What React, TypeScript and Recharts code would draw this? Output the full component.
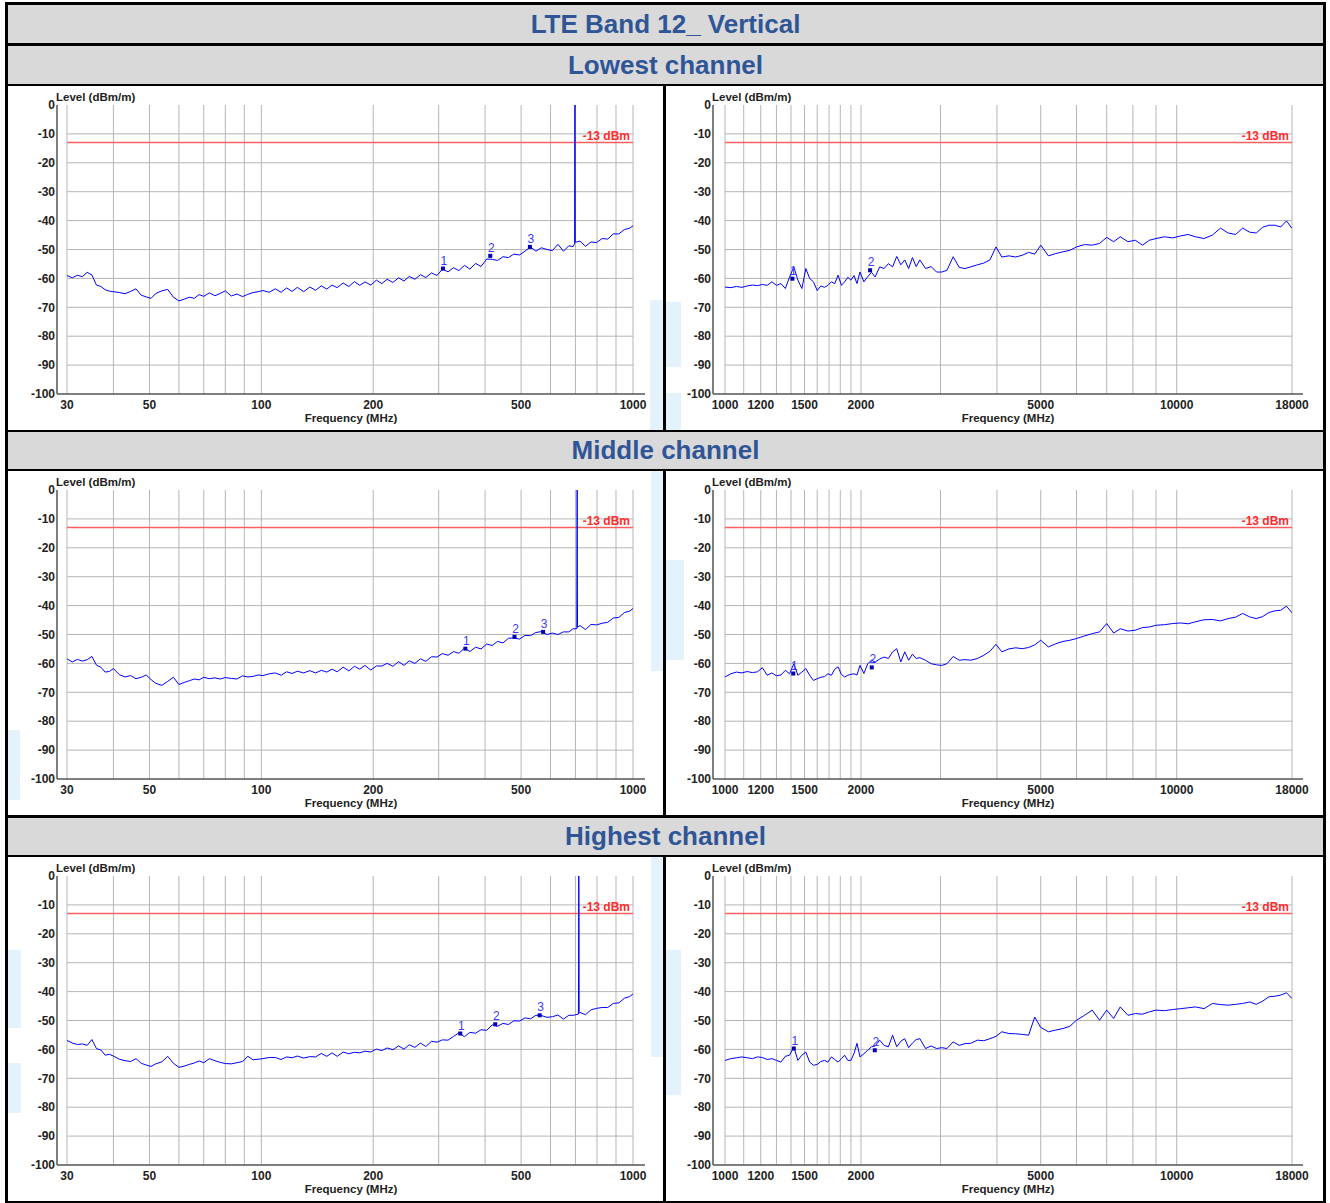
import React from 'react';
import { ComposedChart, Line, Scatter, XAxis, YAxis, ReferenceLine, ReferenceDot } from 'recharts';

// sweep points (MHz)
const LOW_FREQ = [
  30, 31, 32, 33, 34, 35, 36, 37, 38, 39,
  40, 41.5, 43, 44.5, 46, 47.5, 49, 50.5, 52, 54,
  56, 58, 60, 62, 64, 66, 68, 70, 72.5, 75,
  77.5, 80, 83, 86, 89, 92, 95, 98, 101, 105,
  109, 113, 117, 121, 125, 130, 135, 140, 145, 150,
  155, 160, 166, 172, 178, 184, 190, 197, 204, 211,
  218, 226, 234, 242, 250, 259, 268, 277, 287, 297,
  307, 318, 329, 340, 352, 364, 377, 390, 404, 418,
  432, 447, 462, 478, 495, 512, 530, 548, 567, 587,
  607, 628, 650, 672, 690, 720, 745, 771, 798, 826,
  855, 885, 916, 948, 980, 1000,
];

const HIGH_FREQ = [
  1000, 1030, 1060, 1090, 1120, 1150, 1180, 1210, 1240, 1270,
  1300, 1330, 1360, 1390, 1420, 1450, 1480, 1510, 1540, 1570,
  1600, 1630, 1660, 1690, 1720, 1750, 1780, 1810, 1840, 1870,
  1900, 1930, 1960, 1990, 2030, 2070, 2110, 2150, 2200, 2250,
  2300, 2350, 2400, 2450, 2500, 2550, 2600, 2650, 2700, 2780,
  2860, 2940, 3020, 3100, 3200, 3300, 3400, 3500, 3620, 3740,
  3860, 3980, 4100, 4250, 4400, 4550, 4700, 4850, 5000, 5200,
  5400, 5600, 5800, 6000, 6250, 6500, 6750, 7000, 7250, 7500,
  7800, 8100, 8400, 8700, 9000, 9400, 9800, 10200, 10600, 11000,
  11500, 12000, 12500, 13000, 13500, 14000, 14500, 15000, 15500, 16000,
  16500, 17000, 17500, 18000,
];

// levels (dBm/m), 30 MHz - 1 GHz
const LOWEST_LOW = [
  -59.0, -59.8, -58.9, -59.4, -57.9, -58.8, -62.3, -62.8, -63.9, -64.4,
  -64.6, -64.9, -65.3, -64.5, -63.6, -65.8, -66.4, -66.9, -65.2, -64.3,
  -63.8, -66.5, -67.8, -67.2, -66.5, -66.9, -65.6, -66.2, -65.0, -66.0,
  -65.2, -64.3, -66.1, -65.4, -66.3, -65.5, -64.9, -64.6, -64.2, -64.8,
  -63.6, -64.8, -63.3, -64.5, -63.1, -64.6, -63.0, -64.1, -62.6, -63.7,
  -62.3, -63.2, -61.6, -62.8, -61.1, -62.4, -61.2, -62.3, -60.6, -61.8,
  -60.3, -61.4, -59.8, -60.9, -59.3, -60.3, -58.7, -59.7, -58.1, -59.0,
  -56.8, -57.7, -56.3, -57.3, -55.5, -56.8, -54.8, -55.9, -53.3, -53.4,
  -53.8, -52.5, -52.8, -51.6, -51.9, -50.6, -49.1, -50.6, -49.4, -50.0,
  -50.4, -48.2, -50.6, -48.7, -49.0, -47.1, -48.9, -47.4, -47.6, -46.2,
  -46.4, -44.6, -44.6, -43.1, -42.6, -41.8,
];

const MIDDLE_LOW = [
  -58.4, -59.5, -58.6, -59.2, -58.7, -57.6, -60.6, -61.3, -63.0, -62.8,
  -61.8, -63.9, -64.7, -64.2, -65.3, -64.8, -64.0, -65.6, -66.9, -67.6,
  -66.2, -64.8, -67.3, -66.6, -66.0, -65.4, -65.7, -64.8, -65.3, -65.0,
  -65.4, -64.9, -65.2, -65.4, -64.3, -64.7, -64.5, -64.0, -64.2, -63.6,
  -63.3, -64.1, -62.9, -63.5, -62.7, -63.3, -62.5, -63.3, -62.4, -63.0,
  -62.0, -62.9, -61.3, -62.6, -61.0, -62.0, -60.7, -62.3, -60.9, -60.9,
  -60.0, -61.0, -59.4, -60.7, -59.1, -60.0, -58.4, -59.3, -57.7, -57.8,
  -56.6, -57.2, -55.9, -56.5, -54.7, -55.9, -54.4, -55.0, -53.3, -53.8,
  -52.4, -52.9, -51.3, -51.2, -51.6, -50.3, -50.4, -49.3, -49.0, -50.0,
  -49.5, -50.0, -49.1, -49.1, -48.0, -46.9, -48.3, -46.5, -46.7, -46.1,
  -45.8, -44.3, -44.1, -42.4, -41.9, -41.0,
];

const HIGHEST_LOW = [
  -56.9, -57.8, -58.3, -58.1, -58.6, -56.6, -59.7, -60.2, -62.0, -61.7,
  -62.3, -63.4, -63.9, -64.2, -63.2, -64.8, -65.4, -65.9, -65.0, -64.3,
  -62.4, -64.8, -66.2, -65.8, -65.2, -64.7, -64.0, -64.6, -63.2, -63.9,
  -64.5, -64.9, -65.0, -64.6, -64.2, -62.4, -63.6, -63.4, -63.2, -62.8,
  -62.8, -63.5, -62.6, -62.9, -62.3, -63.0, -62.5, -62.6, -61.4, -62.4,
  -61.2, -62.4, -60.9, -61.5, -61.0, -61.2, -60.6, -60.9, -59.9, -60.4,
  -59.5, -60.1, -58.8, -59.9, -58.4, -59.3, -57.8, -59.0, -57.2, -57.5,
  -56.7, -56.8, -55.5, -54.3, -55.6, -54.1, -54.4, -53.2, -53.4, -51.5,
  -52.0, -51.0, -51.4, -50.1, -50.2, -49.1, -49.4, -48.2, -48.3, -48.9,
  -48.7, -48.1, -49.5, -48.2, -48.2, -47.2, -48.0, -46.3, -45.8, -45.5,
  -45.5, -44.1, -43.9, -42.3, -41.7, -40.8,
];

// levels (dBm/m), 1 GHz - 18 GHz
const LOWEST_HIGH = [
  -63.0, -63.2, -62.8, -63.1, -62.6, -62.3, -62.5, -62.1, -62.4, -61.2,
  -62.4, -61.8, -63.5, -59.5, -56.0, -60.6, -63.5, -56.6, -60.0, -61.2,
  -64.2, -62.6, -63.1, -62.4, -61.2, -61.8, -58.9, -62.4, -61.2, -59.6,
  -60.6, -59.0, -61.8, -57.8, -61.2, -59.4, -57.9, -59.5, -56.0, -56.6,
  -54.9, -56.0, -52.4, -55.3, -53.6, -56.6, -52.8, -55.9, -53.6, -56.6,
  -55.9, -57.8, -57.8, -57.2, -52.5, -56.2, -56.6, -56.0, -55.3, -54.7,
  -53.6, -49.1, -52.6, -52.2, -52.6, -52.0, -51.0, -51.6, -48.5, -52.2,
  -51.4, -50.8, -50.3, -49.1, -48.3, -48.5, -47.9, -45.8, -47.3, -45.6,
  -47.3, -46.8, -48.5, -46.8, -46.2, -45.6, -46.0, -45.3, -44.8, -45.6,
  -46.2, -45.0, -42.6, -44.3, -44.8, -42.6, -44.0, -44.3, -42.3, -41.6,
  -41.6, -42.2, -40.1, -42.7,
];

const MIDDLE_HIGH = [
  -64.7, -63.6, -63.0, -63.3, -62.8, -63.2, -62.9, -61.5, -64.1, -63.3,
  -64.3, -64.0, -62.4, -63.6, -60.1, -64.1, -63.0, -61.8, -64.1, -65.9,
  -65.3, -64.8, -64.6, -63.6, -64.1, -62.0, -61.2, -63.8, -64.7, -64.1,
  -63.8, -63.6, -64.0, -60.7, -63.5, -60.1, -58.9, -59.5, -58.5, -57.8,
  -58.3, -56.0, -54.9, -59.5, -56.0, -58.9, -56.8, -58.3, -58.0, -58.9,
  -60.1, -60.5, -60.7, -60.1, -57.6, -58.9, -58.7, -58.9, -58.3, -57.2,
  -55.8, -53.4, -56.0, -55.0, -54.6, -54.9, -54.5, -53.6, -52.0, -54.3,
  -53.2, -52.4, -52.0, -51.4, -50.5, -49.7, -49.1, -46.2, -49.5, -48.0,
  -48.8, -48.5, -47.6, -47.4, -46.8, -46.6, -46.2, -46.0, -46.3, -45.6,
  -44.9, -44.8, -45.3, -44.5, -44.0, -42.7, -43.9, -44.5, -43.8, -42.4,
  -41.8, -41.6, -40.2, -42.5,
];

const HIGHEST_HIGH = [
  -63.8, -63.2, -62.9, -62.6, -62.9, -63.2, -62.6, -62.8, -63.5, -63.2,
  -63.8, -64.4, -62.4, -62.0, -59.1, -63.8, -62.0, -60.9, -64.4, -65.5,
  -65.2, -64.2, -63.8, -64.4, -62.6, -63.5, -64.4, -63.2, -62.0, -63.8,
  -63.8, -61.4, -57.9, -62.6, -61.5, -60.3, -59.1, -58.8, -56.8, -58.6,
  -59.1, -55.1, -59.1, -57.2, -56.3, -59.4, -57.8, -56.6, -56.3, -59.7,
  -58.8, -59.7, -59.4, -59.7, -57.4, -58.6, -58.0, -57.9, -56.8, -57.0,
  -56.3, -55.5, -53.9, -54.5, -54.6, -54.8, -55.1, -48.8, -52.4, -53.9,
  -53.3, -52.8, -52.0, -49.9, -48.2, -46.4, -49.9, -46.4, -49.3, -45.3,
  -48.2, -47.6, -47.8, -47.0, -46.4, -46.6, -46.2, -45.9, -45.6, -45.3,
  -45.9, -44.1, -44.5, -44.7, -44.4, -44.1, -43.6, -44.4, -43.3, -41.8,
  -41.6, -41.2, -40.4, -42.4,
];

// carrier spikes (MHz / dBm/m)
const LOWEST_SPIKE_F = [696.5, 697.2, 697.9, 698.6, 699.3];
const LOWEST_SPIKE_V = [-48.0, -18.0, 0, -18.0, -47.5];
const MIDDLE_SPIKE_F = [706.0, 706.8, 707.6, 708.4, 709.2];
const MIDDLE_SPIKE_V = [-48.0, -19.0, 0, -33.5, -47.5];
const HIGHEST_SPIKE_F = [713.0, 713.8, 714.6, 715.2, 715.8, 716.4];
const HIGHEST_SPIKE_V = [-47.8, -33.0, 0, -5.0, -19.0, -47.5];

// numbered markers
const LOWEST_LOW_MARK_F = [308, 413, 528];
const LOWEST_LOW_MARK_V = [-56.6, -52.2, -49.1];
const MIDDLE_LOW_MARK_F = [354, 480, 573];
const MIDDLE_LOW_MARK_V = [-54.9, -50.8, -49.1];
const HIGHEST_LOW_MARK_F = [343, 426, 561];
const HIGHEST_LOW_MARK_V = [-54.5, -51.3, -48.2];
const LOWEST_HIGH_MARK_F = [1410, 2095];
const LOWEST_HIGH_MARK_V = [-60.1, -57.2];
const MIDDLE_HIGH_MARK_F = [1416, 2113];
const MIDDLE_HIGH_MARK_V = [-63.5, -61.4];
const HIGHEST_HIGH_MARK_F = [1420, 2146];
const HIGHEST_HIGH_MARK_V = [-59.7, -60.3];

// axes
const LOW_TICKS = [30, 50, 100, 200, 500, 1000];
const HIGH_TICKS = [1000, 1200, 1500, 2000, 5000, 10000, 18000];
const LOW_GRID = [30, 40, 50, 60, 70, 80, 90, 100, 200, 300, 400, 500, 600, 700, 800, 900, 1000];
const HIGH_GRID = [1000, 1100, 1200, 1300, 1400, 1500, 1600, 1700, 1800, 1900, 2000, 3000, 4000, 5000, 6000, 7000, 8000, 9000, 10000, 18000];
const Y_TICKS = [0, -10, -20, -30, -40, -50, -60, -70, -80, -90, -100];
const H_GRID = [-10, -20, -30, -40, -50, -60, -70, -80, -90];
const LIMIT = -13;

const FONT = '"Liberation Sans", Arial, sans-serif';
const TITLE_BLUE = '#2f5597';
const GRID = '#b5b5b5';
const FRAME = '#555555';

// faint watermark showing through the cell margins
const WATERMARK = [
  { left: 650, top: 300, width: 13, height: 130 },
  { left: 666, top: 302, width: 15, height: 65 },
  { left: 666, top: 393, width: 15, height: 37 },
  { left: 651, top: 471, width: 12, height: 200 },
  { left: 666, top: 560, width: 18, height: 100 },
  { left: 8, top: 730, width: 12, height: 70 },
  { left: 651, top: 857, width: 12, height: 200 },
  { left: 666, top: 950, width: 15, height: 145 },
  { left: 8, top: 950, width: 13, height: 78 },
  { left: 8, top: 1063, width: 13, height: 50 },
];

const CFG = {
  low: { domain: [30, 1000], ticks: LOW_TICKS, grid: LOW_GRID, width: 655, right: 18, yw: 49, pad: { left: 10, right: 12 } },
  high: { domain: [1000, 18000], ticks: HIGH_TICKS, grid: HIGH_GRID, width: 657, right: 20, yw: 47, pad: { left: 12, right: 11 } },
};

const tickStyle = { fontSize: 12, fontWeight: 'bold', fill: '#222' };

type PanelProps = {
  kind: 'low' | 'high';
  left: number;
  top: number;
  freq: number[];
  levels: number[];
  spikeF?: number[];
  spikeV?: number[];
  markF: number[];
  markV: number[];
};

const Panel = ({ kind, left, top, freq, levels, spikeF = [], spikeV = [], markF, markV }: PanelProps) => {
  const cfg = CFG[kind];
  const [d0, d1] = cfg.domain;
  const trace = [
    ...freq.map((f, i) => ({ f, v: levels[i] })),
    ...spikeF.map((f, i) => ({ f, v: spikeV[i] })),
  ].sort((a, b) => a.f - b.f);
  const marks = markF.map((f, i) => ({ f, v: markV[i], n: i + 1 }));

  return (
    <div style={{ position: 'absolute', left, top, background: '#fff' }}>
      <ComposedChart width={cfg.width} height={344} margin={{ top: 19, right: cfg.right, bottom: 0, left: 0 }}>
        <XAxis
          dataKey="f"
          type="number"
          scale="log"
          domain={cfg.domain}
          ticks={cfg.ticks}
          interval={0}
          allowDataOverflow
          padding={cfg.pad}
          height={36}
          tickSize={0}
          tickMargin={6}
          tickLine={false}
          axisLine={{ stroke: FRAME, strokeWidth: 1.5 }}
          tick={tickStyle}
          label={{ value: 'Frequency (MHz)', position: 'insideBottom', offset: 8, fontSize: 11.5, fontWeight: 'bold', fill: '#222' }}
        />
        <XAxis
          xAxisId="top"
          orientation="top"
          type="number"
          scale="log"
          domain={cfg.domain}
          allowDataOverflow
          height={0}
          tick={false}
          tickLine={false}
          axisLine={{ stroke: FRAME, strokeWidth: 1.5 }}
        />
        <YAxis
          type="number"
          domain={[-100, 0]}
          ticks={Y_TICKS}
          interval={0}
          width={cfg.yw}
          tickSize={0}
          tickMargin={2}
          tickLine={false}
          axisLine={{ stroke: FRAME, strokeWidth: 1.5 }}
          tick={tickStyle}
          label={{
            content: (p: any) => (
              <text x={p.viewBox.x + p.viewBox.width - 1} y={p.viewBox.y - 4} fontSize={11.5} fontWeight="bold" fill="#222">
                Level (dBm/m)
              </text>
            ),
          }}
        />
        <YAxis
          yAxisId="right"
          orientation="right"
          type="number"
          domain={[-100, 0]}
          width={0}
          tick={false}
          tickLine={false}
          axisLine={{ stroke: FRAME, strokeWidth: 1.5 }}
        />
        {cfg.grid.map((g) => (
          <ReferenceLine key={'v' + g} x={g} stroke={GRID} strokeWidth={1} />
        ))}
        {H_GRID.map((y) => (
          <ReferenceLine key={'h' + y} segment={[{ x: d0, y }, { x: d1, y }]} stroke={GRID} strokeWidth={1} />
        ))}
        <ReferenceLine segment={[{ x: d0, y: LIMIT }, { x: d1, y: LIMIT }]} stroke="#ff5f5f" strokeWidth={1.5} />
        <ReferenceDot
          x={d1}
          y={LIMIT}
          r={0}
          shape={(p: any) => (
            <text x={p.cx - 3} y={p.cy - 3} textAnchor="end" fontSize={12} fontWeight="bold" fill="#ff2b2b">
              -13 dBm
            </text>
          )}
        />
        <Line data={trace} dataKey="v" type="linear" stroke="#0000ff" strokeWidth={1} dot={false} isAnimationActive={false} />
        <Scatter
          data={marks}
          dataKey="v"
          isAnimationActive={false}
          shape={(p: any) => (
            <g>
              <rect x={p.cx - 2} y={p.cy - 2} width={4} height={4} fill="#0000b0" />
              <text x={p.cx + 1} y={p.cy - 4} textAnchor="middle" fontSize={12} fill="#3a3aff">
                {p.payload.n}
              </text>
            </g>
          )}
        />
      </ComposedChart>
    </div>
  );
};

const Header = ({ top, height, text }: { top: number; height: number; text: string }) => (
  <div
    style={{
      position: 'absolute',
      left: 8,
      top,
      width: 1315,
      height,
      background: '#d9d9d9',
      display: 'flex',
      alignItems: 'center',
      justifyContent: 'center',
      fontSize: 26,
      fontWeight: 'bold',
      color: TITLE_BLUE,
    }}
  >
    {text}
  </div>
);

export default function App() {
  return (
    <div style={{ position: 'absolute', left: 0, top: 0, width: 1330, height: 1203, background: '#fff', fontFamily: FONT }}>
      <div style={{ position: 'absolute', left: 5, top: 2, width: 1321, height: 1201, background: '#000' }} />
      <Header top={5} height={38} text="LTE Band 12_ Vertical" />
      <Header top={46} height={38} text="Lowest channel" />
      <Panel kind="low" left={8} top={86} freq={LOW_FREQ} levels={LOWEST_LOW} spikeF={LOWEST_SPIKE_F} spikeV={LOWEST_SPIKE_V} markF={LOWEST_LOW_MARK_F} markV={LOWEST_LOW_MARK_V} />
      <Panel kind="high" left={666} top={86} freq={HIGH_FREQ} levels={LOWEST_HIGH} markF={LOWEST_HIGH_MARK_F} markV={LOWEST_HIGH_MARK_V} />
      <Header top={432} height={37} text="Middle channel" />
      <Panel kind="low" left={8} top={471} freq={LOW_FREQ} levels={MIDDLE_LOW} spikeF={MIDDLE_SPIKE_F} spikeV={MIDDLE_SPIKE_V} markF={MIDDLE_LOW_MARK_F} markV={MIDDLE_LOW_MARK_V} />
      <Panel kind="high" left={666} top={471} freq={HIGH_FREQ} levels={MIDDLE_HIGH} markF={MIDDLE_HIGH_MARK_F} markV={MIDDLE_HIGH_MARK_V} />
      <Header top={818} height={37} text="Highest channel" />
      <Panel kind="low" left={8} top={857} freq={LOW_FREQ} levels={HIGHEST_LOW} spikeF={HIGHEST_SPIKE_F} spikeV={HIGHEST_SPIKE_V} markF={HIGHEST_LOW_MARK_F} markV={HIGHEST_LOW_MARK_V} />
      <Panel kind="high" left={666} top={857} freq={HIGH_FREQ} levels={HIGHEST_HIGH} markF={HIGHEST_HIGH_MARK_F} markV={HIGHEST_HIGH_MARK_V} />
      {WATERMARK.map((w, i) => (
        <div key={i} style={{ position: 'absolute', ...w, background: '#e4f2fc', pointerEvents: 'none' }} />
      ))}
    </div>
  );
}
